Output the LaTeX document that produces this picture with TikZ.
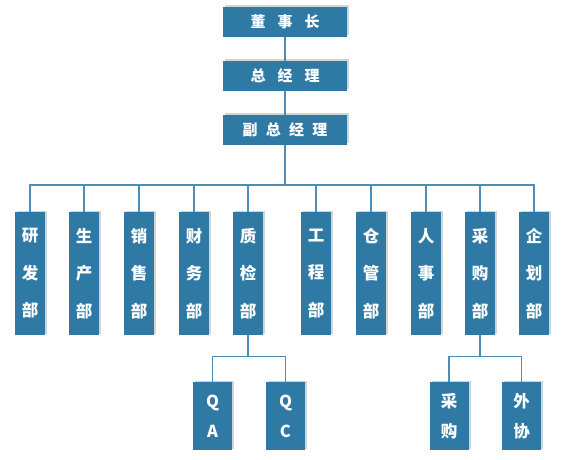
\documentclass[tikz,border=0pt]{standalone}
\usepackage{fontspec}
\newfontfamily\cjk{Noto Sans CJK SC}
\usetikzlibrary{shadows}
\definecolor{boxblue}{HTML}{2F79A5}
\definecolor{linkblue}{HTML}{4E8DB5}
\definecolor{shadowgrey}{HTML}{D2D4D6}
\tikzset{
  box/.style={fill=boxblue, draw=none, text=white, inner sep=0pt,
    copy shadow={shadow xshift=2pt, shadow yshift=1.5pt, fill=shadowgrey, draw=none}},
  topbox/.style={box, minimum width=124pt, minimum height=30pt,
    font=\cjk\bfseries\fontsize{15}{17}\selectfont},
  deptbox/.style={box, minimum width=30pt, minimum height=123pt, align=center,
    font=\cjk\bfseries\fontsize{16.5}{37.5}\selectfont},
  subbox/.style={box, minimum width=39pt, minimum height=68pt, align=center,
    font=\cjk\bfseries\fontsize{16.5}{30}\selectfont},
  link/.style={draw=linkblue, line width=1.2pt}
}
\begin{document}
\begin{tikzpicture}[x=1pt, y=-1pt]
\useasboundingbox[fill=white] (0,0) rectangle (566,460);
% top chain
\node[topbox] (t1) at (285,22) {董\hspace{0.8em}事\hspace{0.8em}长};
\node[topbox] (t2) at (285,76) {总\hspace{0.8em}经\hspace{0.8em}理};
\node[topbox] (t3) at (285,130) {副\hspace{0.55em}总\hspace{0.55em}经\hspace{0.55em}理};
% departments
\node[deptbox] (d1) at (30,273.5) {研\\发\\部};
\node[deptbox] (d2) at (84,273.5) {生\\产\\部};
\node[deptbox] (d3) at (139,273.5) {销\\售\\部};
\node[deptbox] (d4) at (194,273.5) {财\\务\\部};
\node[deptbox] (d5) at (248,273.5) {质\\检\\部};
\node[deptbox] (d6) at (316,273.5) {工\\程\\部};
\node[deptbox] (d7) at (371,273.5) {仓\\管\\部};
\node[deptbox] (d8) at (426,273.5) {人\\事\\部};
\node[deptbox] (d9) at (480,273.5) {采\\购\\部};
\node[deptbox] (d10) at (534,273.5) {企\\划\\部};
% sub units
\node[subbox] (qa) at (212.5,416) {Q\\A};
\node[subbox] (qc) at (285.5,416) {Q\\C};
\node[subbox] (cg) at (449,416) {采\\购};
\node[subbox] (wx) at (521.5,416) {外\\协};
% connectors
\coordinate (bus) at (285,185);
\draw[link] (t1) -- (t2);
\draw[link] (t2) -- (t3);
\draw[link] (t3) -- (bus);
\foreach \d in {d1,d2,d3,d4,d5,d6,d7,d8,d9,d10}{
  \draw[link] (bus) -| (\d.north);
}
\draw[link] (d5.south) -- ++(0,21) coordinate (qbus);
\draw[link] (qbus) -| (qa.north);
\draw[link] (qbus) -| (qc.north);
\draw[link] (d9.south) -- ++(0,21) coordinate (cbus);
\draw[link] (cbus) -| (cg.north);
\draw[link] (cbus) -| (wx.north);
\end{tikzpicture}
\end{document}
